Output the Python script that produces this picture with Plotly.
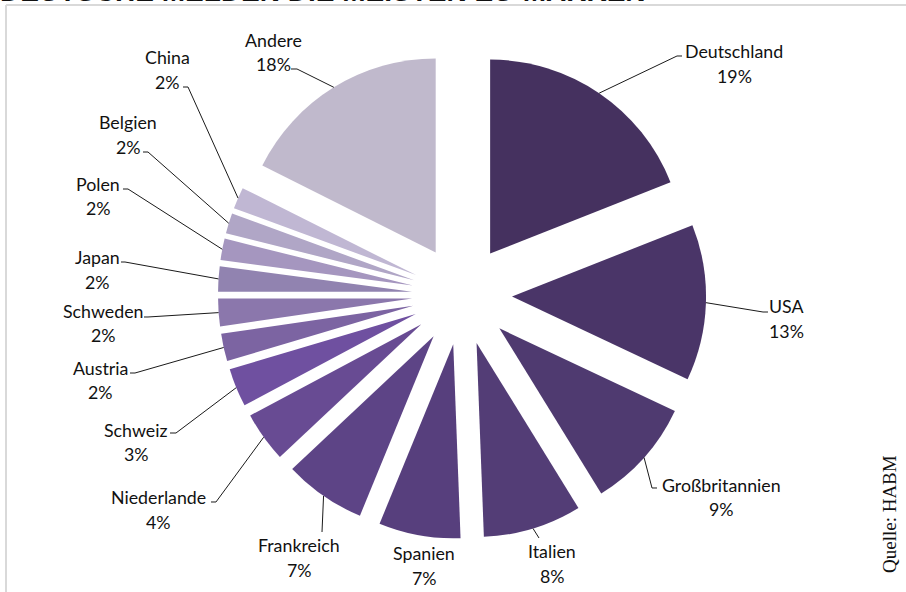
import math
import plotly.graph_objects as go

# ---------------- data ----------------
labels = ["Deutschland", "USA", "Großbritannien", "Italien", "Spanien", "Frankreich",
          "Niederlande", "Schweiz", "Austria", "Schweden", "Japan", "Polen",
          "Belgien", "China", "Andere"]
values = [19.0, 13.0, 9.2, 8.2, 6.8, 6.8, 4.2, 3.2, 2.3, 2.3, 2.1, 1.8, 1.7, 1.8, 17.6]
colors = ["#45315f", "#4a3568", "#4f3a70", "#533d76", "#573f7d", "#5d4486",
          "#684b93", "#6f50a0", "#7c64a2", "#8b77ac", "#9183b0", "#a596bf",
          "#b0a6c6", "#c0b7d3", "#c0b9cc"]
title_text = "DEUTSCHE MELDEN DIE MEISTEN EU-MARKEN"
source_text = "Quelle: HABM"

# ---------------- layout constants (pixels) ----------------
W, H = 906, 592
CX, CY = 462, 295          # pie centre
R = 194                    # slice radius
PULL = 0.258               # explosion as fraction of radius
HALF = R * (1 + PULL)

# label placement: name centre (x,y), percent y, leader elbow, leader tick end
label_layout = {
    "Deutschland":    (734, 51, 76, (677, 56), (682, 56)),
    "USA":            (786, 306, 331, (763, 312), (768, 312)),
    "Großbritannien": (721, 485, 509, (652, 488), (657, 488)),
    "Italien":        (552, 551, 576, (539, 538), None),
    "Spanien":        (424, 553, 578, None, None),
    "Frankreich":     (299, 545, 570, (322, 532), None),
    "Niederlande":    (158, 497, 522, (216, 502), (211, 502)),
    "Schweiz":        (136, 430, 454, (176, 433), (170, 433)),
    "Austria":        (100, 368, 392, (135, 373), (130, 373)),
    "Schweden":       (103, 311, 335, (148, 317), (144, 317)),
    "Japan":          (97, 257, 282, (125, 262), (121, 262)),
    "Polen":          (98, 184, 208, (128, 189), (123, 189)),
    "Belgien":        (128, 122, 147, (148, 152), (143, 152)),
    "China":          (167, 57, 82, (188, 87), (183, 87)),
    "Andere":         (273, 40, 64, (297, 69), (291, 69)),
}


def px(x, y):
    return x / W, 1 - y / H


FONT = "Lato, 'Open Sans', sans-serif"
FS = 17.8

fig = go.Figure()
fig.add_trace(go.Pie(
    labels=labels,
    values=values,
    sort=False,
    direction="clockwise",
    rotation=0,
    pull=[PULL] * len(values),
    marker=dict(colors=colors, line=dict(width=0)),
    textinfo="none",
    hoverinfo="label+percent",
    showlegend=False,
    domain=dict(x=[(CX - HALF) / W, (CX + HALF) / W],
                y=[1 - (CY + HALF) / H, 1 - (CY - HALF) / H]),
))

annotations = []
shapes = []
total = sum(values)
cum = 0.0
for lab, v in zip(labels, values):
    mid = (cum + v / 2) / total * 2 * math.pi
    cum += v
    ax = CX + (R + PULL * R) * math.sin(mid)
    ay = CY - (R + PULL * R) * math.cos(mid)
    nx, ny, py, elbow, tick = label_layout[lab]
    pct = f"{round(v / total * 100)}%"
    for txt, yy in ((lab, ny), (pct, py)):
        x0, y0 = px(nx, yy)
        annotations.append(dict(x=x0, y=y0, xref="paper", yref="paper", text=txt,
                                showarrow=False, xanchor="center", yanchor="middle",
                                font=dict(family=FONT, size=FS, color="#111111")))
    pts = [(ax, ay)]
    if elbow:
        pts.append(elbow)
    if tick:
        pts.append(tick)
    if len(pts) > 1:
        path = "M " + " L ".join(f"{px(a, b)[0]:.5f},{px(a, b)[1]:.5f}" for a, b in pts)
        shapes.append(dict(type="path", xref="paper", yref="paper", path=path,
                           line=dict(color="#1a1a1a", width=1)))

# frame
shapes.append(dict(type="line", xref="paper", yref="paper",
                   x0=px(6, 5)[0], y0=px(6, 5)[1], x1=px(920, 5)[0], y1=px(920, 5)[1],
                   line=dict(color="#d9d9d9", width=2)))
shapes.append(dict(type="line", xref="paper", yref="paper",
                   x0=px(6, 5)[0], y0=px(6, 5)[1], x1=px(6, 610)[0], y1=px(6, 610)[1],
                   line=dict(color="#d9d9d9", width=2)))

# clipped title at very top (cut off by the page edge, as in the original)
annotations.append(dict(x=px(-2, 0)[0], y=px(0, -8)[1], xref="paper", yref="paper",
                        text=f"<b>{title_text}</b>", showarrow=False,
                        xanchor="left", yanchor="middle",
                        font=dict(family="'Liberation Sans', Arial, sans-serif", size=28,
                                  color="#111111")))
# source
annotations.append(dict(x=px(889, 0)[0], y=px(0, 514)[1], xref="paper", yref="paper",
                        text=source_text, showarrow=False, textangle=-90,
                        xanchor="center", yanchor="middle",
                        font=dict(family="'Liberation Serif', 'Times New Roman', serif",
                                  size=19, color="#111111")))

fig.update_layout(
    width=W, height=H,
    margin=dict(l=0, r=0, t=0, b=0),
    paper_bgcolor="white",
    plot_bgcolor="white",
    annotations=annotations,
    shapes=shapes,
)

fig.write_html("out.html")
